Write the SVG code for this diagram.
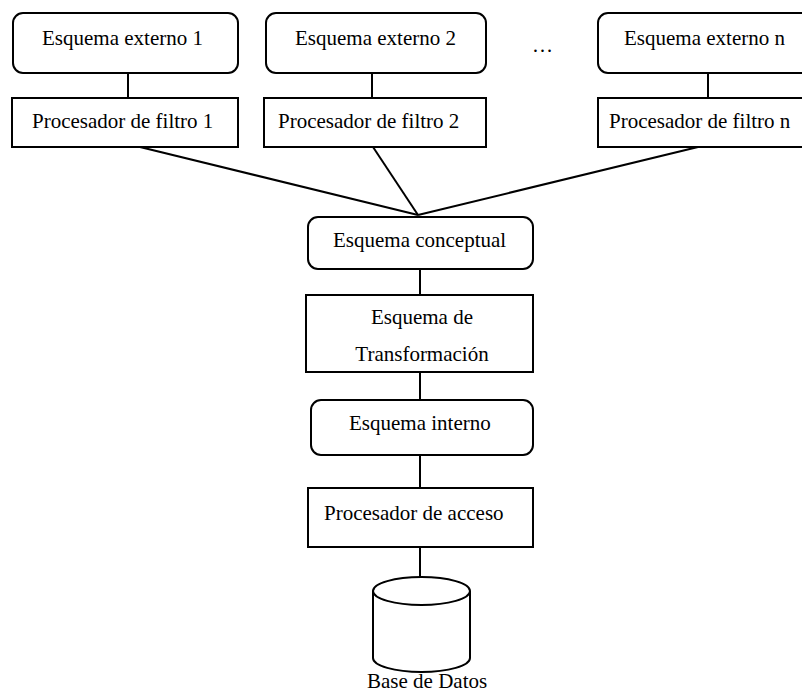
<svg xmlns="http://www.w3.org/2000/svg" width="802" height="693" viewBox="0 0 802 693">
<style>
.b{fill:#fff;stroke:#000;stroke-width:2}
.t{font-family:"Liberation Serif","Times New Roman",serif;font-size:21px;fill:#000}
.c{stroke:#000;stroke-width:2;fill:none}
</style>
<rect width="802" height="693" fill="#fff"/>
<g id="connectors">
<line class="c" x1="128" y1="73" x2="128" y2="98"/>
<line class="c" x1="372" y1="73" x2="372" y2="98"/>
<line class="c" x1="708" y1="73" x2="708" y2="98"/>
<line class="c" x1="140" y1="147" x2="418" y2="215"/>
<line class="c" x1="373" y1="147" x2="418" y2="215"/>
<line class="c" x1="698" y1="147" x2="418" y2="215"/>
<line class="c" x1="420" y1="269" x2="420" y2="295"/>
<line class="c" x1="420" y1="372" x2="420" y2="400"/>
<line class="c" x1="420" y1="455" x2="420" y2="488"/>
<line class="c" x1="420" y1="547" x2="420" y2="577"/>
</g>
<g id="ext1"><rect class="b" x="13" y="13" width="225" height="60" rx="10"/><text class="t" x="42" y="45">Esquema externo 1</text></g>
<g id="ext2"><rect class="b" x="266" y="13" width="220" height="60" rx="10"/><text class="t" x="295" y="45">Esquema externo 2</text></g>
<g id="dots"><text class="t" x="532" y="52">…</text></g>
<g id="extn"><rect class="b" x="598" y="13" width="230" height="60" rx="10"/><text class="t" x="624" y="45">Esquema externo n</text></g>
<g id="fil1"><rect class="b" x="12" y="98" width="226" height="49"/><text class="t" x="32" y="128">Procesador de filtro 1</text></g>
<g id="fil2"><rect class="b" x="264" y="98" width="222" height="49"/><text class="t" x="278" y="128">Procesador de filtro 2</text></g>
<g id="filn"><rect class="b" x="598" y="98" width="230" height="49"/><text class="t" x="609" y="128">Procesador de filtro n</text></g>
<g id="conceptual"><rect class="b" x="308" y="217" width="225" height="52" rx="10"/><text class="t" x="333" y="247">Esquema conceptual</text></g>
<g id="transf"><rect class="b" x="306" y="295" width="227" height="77"/><text class="t" x="422" y="324" text-anchor="middle">Esquema de</text><text class="t" x="422" y="361" text-anchor="middle">Transformación</text></g>
<g id="interno"><rect class="b" x="311" y="400" width="222" height="55" rx="10"/><text class="t" x="349" y="430">Esquema interno</text></g>
<g id="acceso"><rect class="b" x="308" y="488" width="225" height="59"/><text class="t" x="324" y="520">Procesador de acceso</text></g>
<g id="bd">
<path class="b" d="M373,591 L373,658 A48.5,14 0 0 0 470,658 L470,591 A48.5,14 0 0 0 373,591 Z"/>
<path class="c" d="M373,591 A48.5,14 0 0 0 470,591"/>
<text class="t" x="367" y="688">Base de Datos</text>
</g>
</svg>
